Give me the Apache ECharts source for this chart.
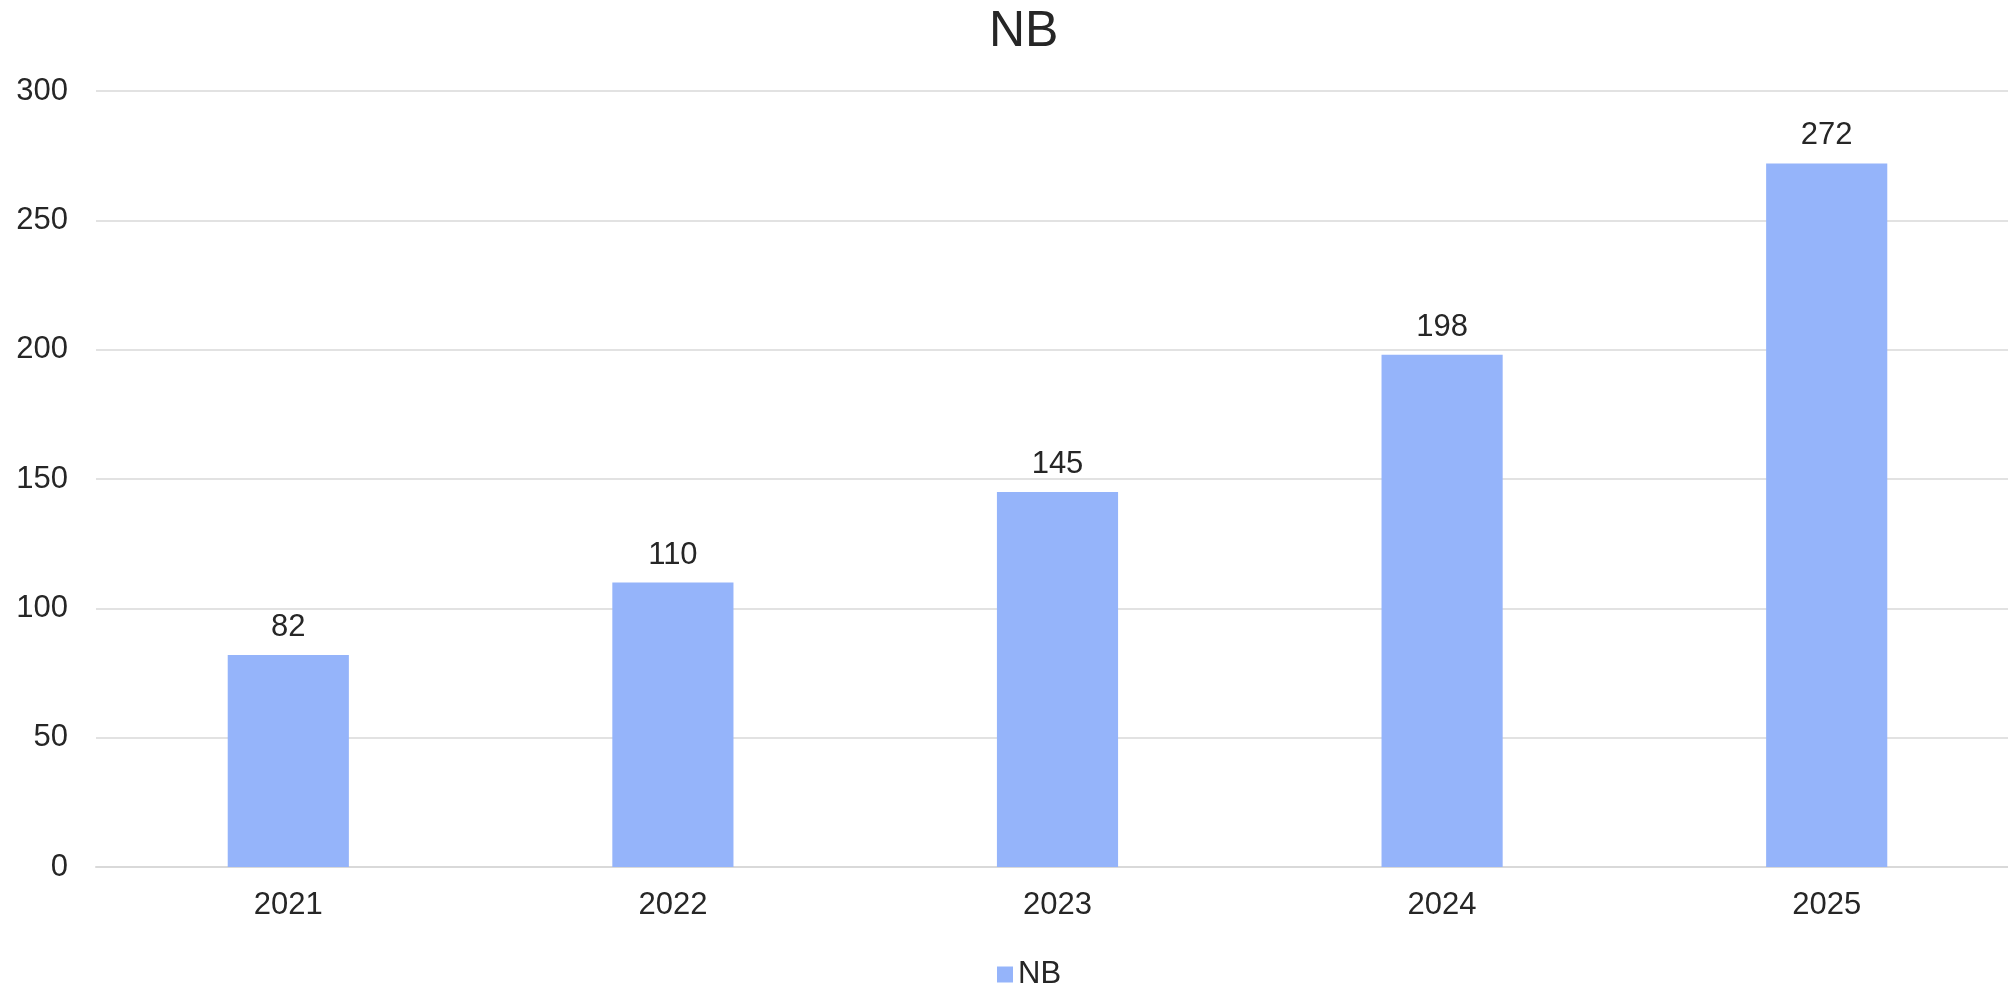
<!DOCTYPE html>
<html>
<head>
<meta charset="utf-8">
<script src="https://cdn.jsdelivr.net/npm/echarts@6/dist/echarts.min.js"></script>
<style>
html,body{margin:0;padding:0;background:#fff;overflow:hidden;width:2008px;height:989px;}
#chart{width:2030px;height:989px;}
</style>
</head>
<body>
<div id="chart"></div>
<script>
const titleText = 'NB';
const seriesName = 'NB';
const categories = ['2021', '2022', '2023', '2024', '2025'];
const values = [82, 110, 145, 198, 272];
const yTicks = { min: 0, max: 300, interval: 50 };

const FONT = '"Liberation Sans", Arial, sans-serif';
const TEXT = '#262626';
const chart = echarts.init(document.getElementById('chart'), null, { renderer: 'canvas' });
chart.setOption({
  backgroundColor: '#ffffff',
  animation: false,
  title: {
    text: titleText,
    left: 984,
    top: 2,
    textStyle: { fontFamily: FONT, fontSize: 50, fontWeight: 'normal', color: TEXT }
  },
  legend: {
    data: [seriesName],
    left: 992,
    top: 954,
    itemWidth: 16,
    itemHeight: 16,
    icon: 'rect',
    textStyle: { fontFamily: FONT, fontSize: 31, color: TEXT }
  },
  grid: { left: 96, right: 11, top: 91, bottom: 122, containLabel: false },
  xAxis: {
    type: 'category',
    data: categories,
    axisLine: { show: true, lineStyle: { color: '#d9d9d9', width: 2 } },
    axisTick: { show: false },
    axisLabel: { fontFamily: FONT, fontSize: 31, color: TEXT, margin: 23 }
  },
  yAxis: {
    type: 'value',
    min: yTicks.min,
    max: yTicks.max,
    interval: yTicks.interval,
    axisLine: { show: false },
    axisTick: { show: false },
    splitLine: { lineStyle: { color: '#d9d9d9', width: 1.5 } },
    axisLabel: { fontFamily: FONT, fontSize: 31, color: TEXT, margin: 28 }
  },
  series: [{
    name: seriesName,
    type: 'bar',
    data: values,
    barWidth: '31.5%',
    itemStyle: { color: '#95b4fa' },
    label: {
      show: true,
      position: 'top',
      distance: 12,
      fontFamily: FONT,
      fontSize: 31,
      color: TEXT
    }
  }]
});
</script>
</body>
</html>
